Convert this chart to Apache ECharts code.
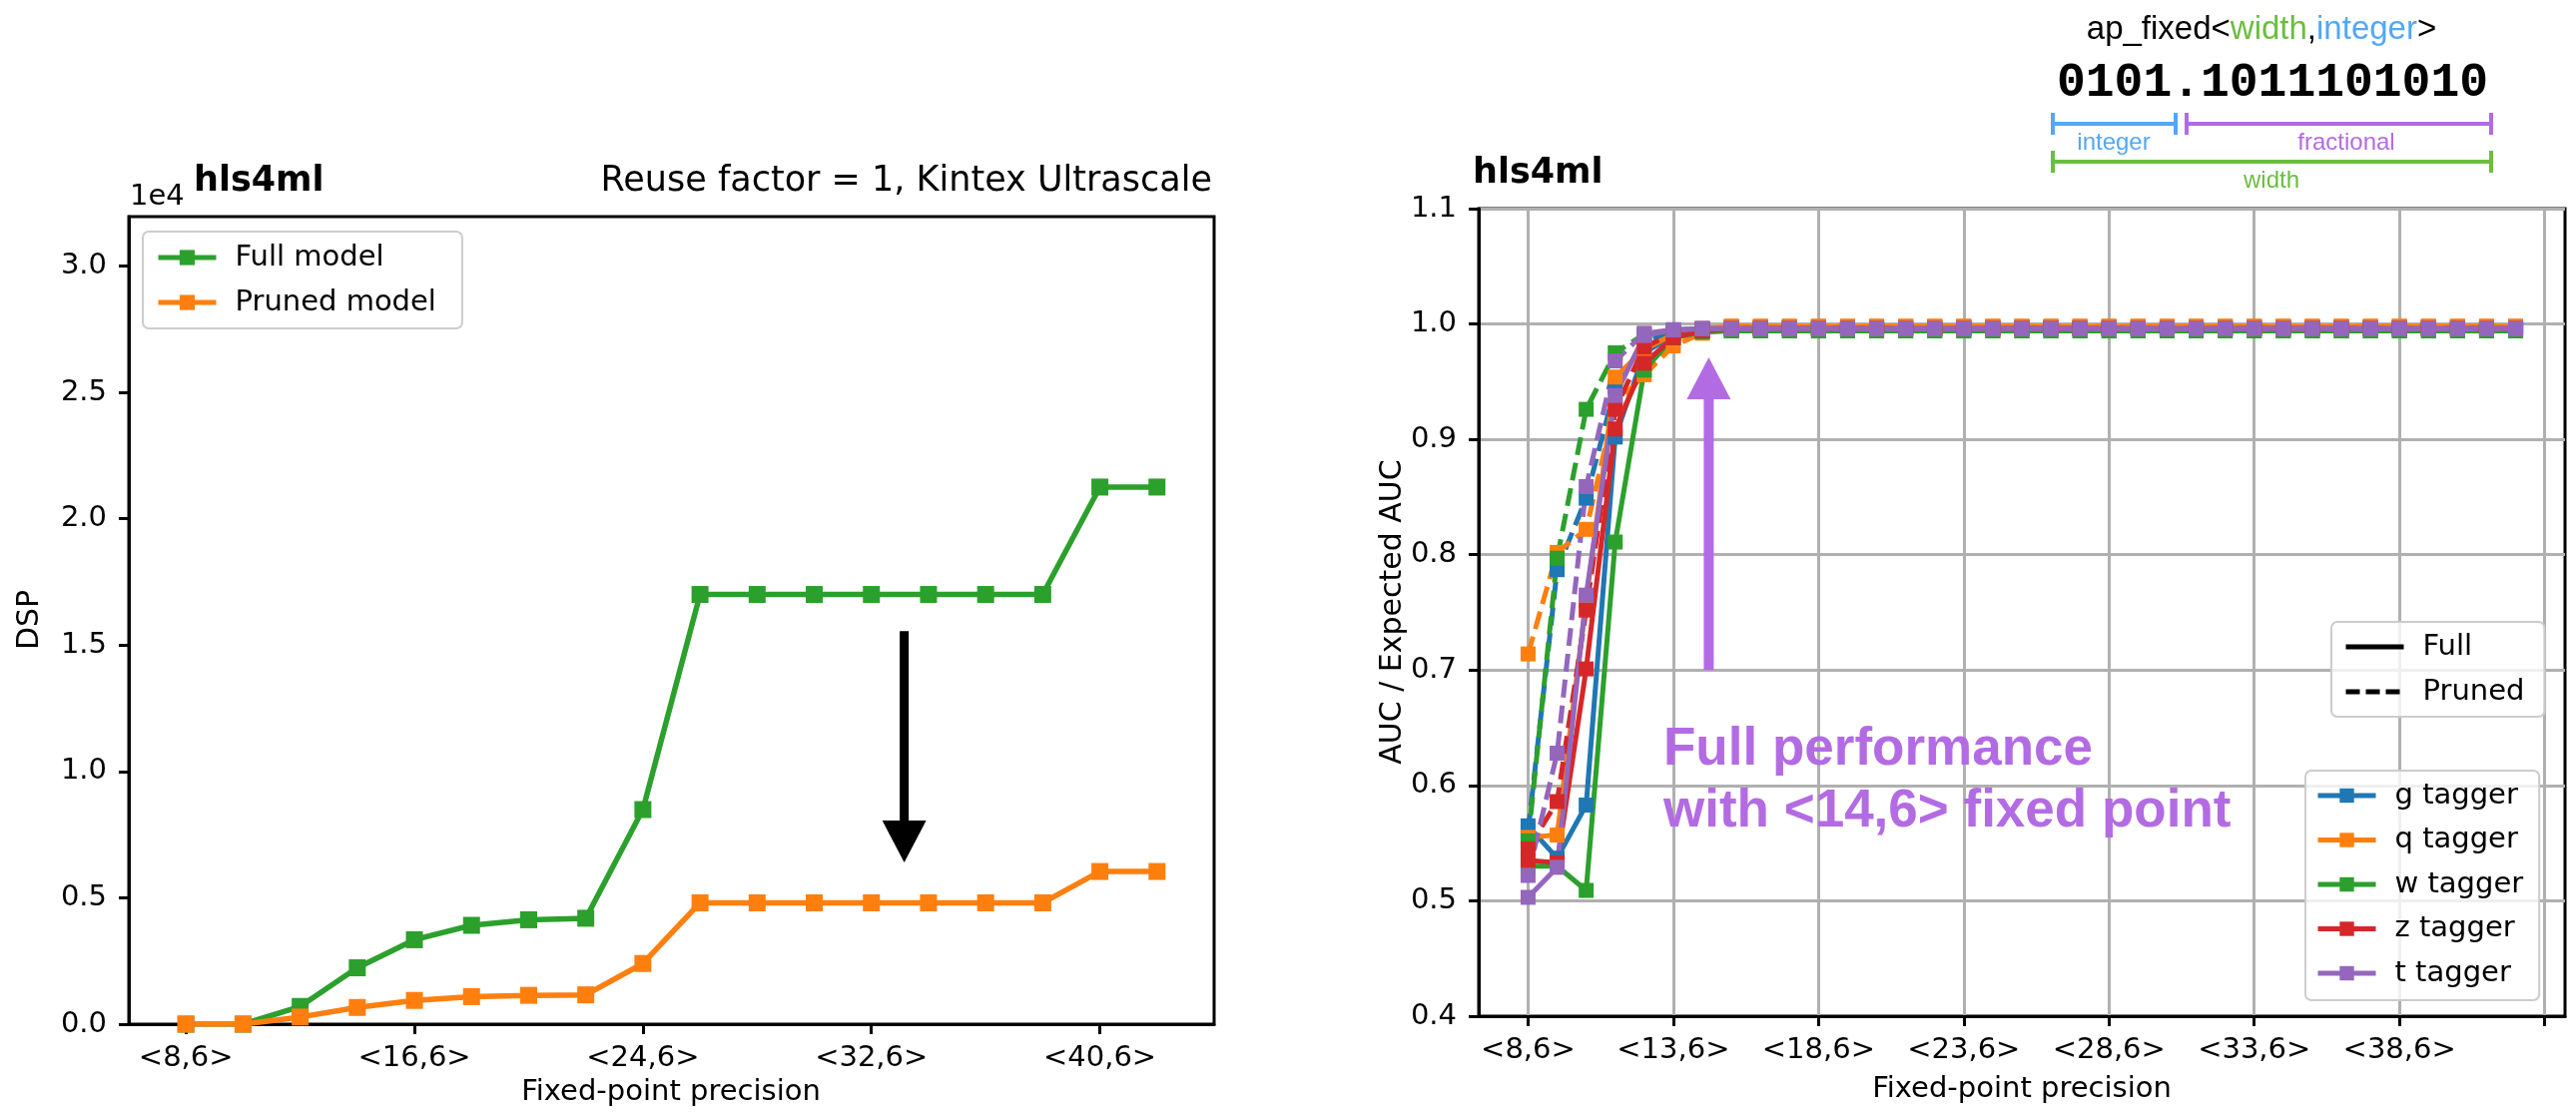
<!DOCTYPE html>
<html><head><meta charset="utf-8">
<script src="https://cdn.jsdelivr.net/npm/echarts@6/dist/echarts.min.js"></script>
<style>html,body{margin:0;padding:0;background:#fff}#c{width:2580px;height:1117px}</style>
</head><body><div id="c"></div>
<script>
// ---------- left panel data (DSP usage) ----------
const dspX = [8,10,12,14,16,18,20,22,24,26,28,30,32,34,36,38,40,42];
const dspFull = [0,0,700,2230,3340,3910,4130,4190,8490,17000,17000,17000,17000,17000,17000,17000,21250,21250];
const dspPruned = [0,0,280,660,940,1090,1140,1160,2400,4800,4800,4800,4800,4800,4800,4800,6040,6040];
const dspTickValues = [8,16,24,32,40];
const dspTickLabels = ['<8,6>','<16,6>','<24,6>','<32,6>','<40,6>'];
const dspYTicks = [0,5000,10000,15000,20000,25000,30000];
const dspYLabels = ['0.0','0.5','1.0','1.5','2.0','2.5','3.0'];

// ---------- right panel data (AUC ratio) ----------
const aucX = [8,9,10,11,12,13,14,15,16,17,18,19,20,21,22,23,24,25,26,27,28,29,30,31,32,33,34,35,36,37,38,39,40,41,42];
const aucTickValues = [8,13,18,23,28,33,38,43];
const aucTickLabels = ['<8,6>','<13,6>','<18,6>','<23,6>','<28,6>','<33,6>','<38,6>',''];
const aucYTicks = [0.4,0.5,0.6,0.7,0.8,0.9,1.0,1.1];
const taggerNames = ['g tagger','q tagger','w tagger','z tagger','t tagger'];
const taggerColors = ['#1f77b4','#ff7f0e','#2ca02c','#d62728','#9467bd'];
const gFull = [0.565,0.537,0.583,0.902,0.975,0.990,0.995,
  0.997,0.997,0.997,0.997,0.997,0.997,0.997,0.997,0.997,0.997,0.997,0.997,0.997,0.997,
  0.997,0.997,0.997,0.997,0.997,0.997,0.997,0.997,0.997,0.997,0.997,0.997,0.997,0.997];
const gPruned = [0.560,0.787,0.849,0.945,0.985,0.993,0.996,
  0.997,0.997,0.997,0.997,0.997,0.997,0.997,0.997,0.997,0.997,0.997,0.997,0.997,0.997,
  0.997,0.997,0.997,0.997,0.997,0.997,0.997,0.997,0.997,0.997,0.997,0.997,0.997,0.997];
const qFull = [0.555,0.557,0.760,0.954,0.978,0.991,0.996,
  0.998,0.998,0.998,0.998,0.998,0.998,0.998,0.998,0.998,0.998,0.998,0.998,0.998,0.998,
  0.998,0.998,0.998,0.998,0.998,0.998,0.998,0.998,0.998,0.998,0.998,0.998,0.998,0.998];
const qPruned = [0.714,0.802,0.822,0.930,0.956,0.981,0.992,
  0.998,0.998,0.998,0.998,0.998,0.998,0.998,0.998,0.998,0.998,0.998,0.998,0.998,0.998,
  0.998,0.998,0.998,0.998,0.998,0.998,0.998,0.998,0.998,0.998,0.998,0.998,0.998,0.998];
const wFull = [0.530,0.530,0.509,0.811,0.960,0.988,0.993,
  0.994,0.994,0.994,0.994,0.994,0.994,0.994,0.994,0.994,0.994,0.994,0.994,0.994,0.994,
  0.994,0.994,0.994,0.994,0.994,0.994,0.994,0.994,0.994,0.994,0.994,0.994,0.994,0.994];
const wPruned = [0.552,0.797,0.926,0.975,0.991,0.994,0.994,
  0.994,0.994,0.994,0.994,0.994,0.994,0.994,0.994,0.994,0.994,0.994,0.994,0.994,0.994,
  0.994,0.994,0.994,0.994,0.994,0.994,0.994,0.994,0.994,0.994,0.994,0.994,0.994,0.994];
const zFull = [0.535,0.533,0.701,0.909,0.966,0.988,0.994,
  0.996,0.996,0.996,0.996,0.996,0.996,0.996,0.996,0.996,0.996,0.996,0.996,0.996,0.996,
  0.996,0.996,0.996,0.996,0.996,0.996,0.996,0.996,0.996,0.996,0.996,0.996,0.996,0.996];
const zPruned = [0.545,0.586,0.752,0.926,0.980,0.992,0.995,
  0.996,0.996,0.996,0.996,0.996,0.996,0.996,0.996,0.996,0.996,0.996,0.996,0.996,0.996,
  0.996,0.996,0.996,0.996,0.996,0.996,0.996,0.996,0.996,0.996,0.996,0.996,0.996,0.996];
const tFull = [0.503,0.529,0.765,0.938,0.990,0.995,0.996,
  0.996,0.996,0.996,0.996,0.996,0.996,0.996,0.996,0.996,0.996,0.996,0.996,0.996,0.996,
  0.996,0.996,0.996,0.996,0.996,0.996,0.996,0.996,0.996,0.996,0.996,0.996,0.996,0.996];
const tPruned = [0.522,0.628,0.859,0.968,0.992,0.995,0.996,
  0.996,0.996,0.996,0.996,0.996,0.996,0.996,0.996,0.996,0.996,0.996,0.996,0.996,0.996,
  0.996,0.996,0.996,0.996,0.996,0.996,0.996,0.996,0.996,0.996,0.996,0.996,0.996,0.996];
const fullSets = [gFull,qFull,wFull,zFull,tFull];
const prunedSets = [gPruned,qPruned,wPruned,zPruned,tPruned];

// annotation anchors (data space)
const dspArrow = {x: 33.15, from: 15550, to: 6400};
const aucArrow = {x: 14.22, from: 0.70, to: 0.971};

const FONT = '"DejaVu Sans", sans-serif';
const chart = echarts.init(document.getElementById('c'), null, {renderer: 'canvas'});

function pairs(xs, ys){ return xs.map((x,i)=>[x, ys[i]]); }

const series = [];
series.push({name:'Full model', type:'line', xAxisIndex:0, yAxisIndex:0, data: pairs(dspX, dspFull),
  symbol:'rect', symbolSize:17, color:'#2ca02c', lineStyle:{width:5.5}, z:3});
series.push({name:'Pruned model', type:'line', xAxisIndex:0, yAxisIndex:0, data: pairs(dspX, dspPruned),
  symbol:'rect', symbolSize:17, color:'#ff7f0e', lineStyle:{width:5.5}, z:3});
for (let k=0;k<5;k++){
  series.push({name: taggerNames[k], type:'line', xAxisIndex:1, yAxisIndex:1, data: pairs(aucX, fullSets[k]),
    symbol:'rect', symbolSize:15, color: taggerColors[k], lineStyle:{width:5}, z:3});
  series.push({name: taggerNames[k]+' pruned', type:'line', xAxisIndex:1, yAxisIndex:1, data: pairs(aucX, prunedSets[k]),
    symbol:'rect', symbolSize:15, color: taggerColors[k], lineStyle:{width:5, type:[18,8]}, z:3});
}
series.push({name:'Full', type:'line', xAxisIndex:1, yAxisIndex:1, data:[], symbol:'none', color:'#000', lineStyle:{width:5}});
series.push({name:'Pruned', type:'line', xAxisIndex:1, yAxisIndex:1, data:[], symbol:'none', color:'#000', lineStyle:{width:5, type:[14,6]}});

const axisCommon = {
  axisLine:{show:true, onZero:false, lineStyle:{color:'#000', width:3}},
  axisTick:{show:true, length:10, lineStyle:{color:'#000', width:3}},
  axisLabel:{color:'#000', fontSize:29, fontFamily:FONT}
};

const legendCommon = {
  orient:'vertical', textStyle:{fontSize:29, fontFamily:FONT, color:'#000', lineHeight:30, padding:[0,0,0,14]},
  backgroundColor:'rgba(255,255,255,0.8)', borderColor:'#cccccc', borderWidth:2, borderRadius:6,
  selectedMode:false, itemWidth:58, lineStyle:{width:5}
};

const option = {
  animation:false,
  backgroundColor:'#ffffff',
  grid:[
    {left:129, top:217, width:1087, height:809, show:true, borderColor:'#000', borderWidth:3, backgroundColor:'transparent'},
    {left:1481, top:209, width:1088, height:809, show:true, borderColor:'#000', borderWidth:3, backgroundColor:'transparent'}
  ],
  xAxis:[
    Object.assign({}, axisCommon, {type:'value', gridIndex:0, min:6, max:44,
      axisTick:{show:true, length:10, lineStyle:{color:'#000', width:3}, customValues: dspTickValues},
      axisLabel:{color:'#000', fontSize:29, fontFamily:FONT, margin:20, customValues: dspTickValues,
        formatter:(v)=>dspTickLabels[dspTickValues.indexOf(v)] ?? ''},
      splitLine:{show:false}}),
    Object.assign({}, axisCommon, {type:'value', gridIndex:1, min:6.3, max:43.7,
      axisTick:{show:true, length:10, lineStyle:{color:'#000', width:3}, customValues: aucTickValues},
      axisLabel:{color:'#000', fontSize:29, fontFamily:FONT, margin:20, customValues: aucTickValues,
        formatter:(v)=>aucTickLabels[aucTickValues.indexOf(v)] ?? ''},
      splitLine:{show:true, lineStyle:{color:'#b0b0b0', width:3}}})
  ],
  yAxis:[
    Object.assign({}, axisCommon, {type:'value', gridIndex:0, min:0, max:31950,
      axisTick:{show:true, length:10, lineStyle:{color:'#000', width:3}, customValues: dspYTicks},
      axisLabel:{color:'#000', fontSize:29, fontFamily:FONT, margin:22, customValues: dspYTicks,
        formatter:(v)=>dspYLabels[dspYTicks.indexOf(v)] ?? ''},
      splitLine:{show:false}}),
    Object.assign({}, axisCommon, {type:'value', gridIndex:1, min:0.4, max:1.1, interval:0.1,
      axisLabel:{color:'#000', fontSize:29, fontFamily:FONT, margin:22, formatter:(v)=>v.toFixed(1)},
      splitLine:{show:true, lineStyle:{color:'#b0b0b0', width:3}}})
  ],
  legend:[
    Object.assign({}, legendCommon, {data:['Full model','Pruned model'], left:143, top:232, itemHeight:19, itemGap:15, padding:[11,26,11,13]}),
    Object.assign({}, legendCommon, {data:[
        {name:'Full', itemStyle:{opacity:0}},
        {name:'Pruned', itemStyle:{opacity:0}}
      ], left:2335, top:623, itemHeight:17, itemGap:15, padding:[10,20,10,12]}),
    Object.assign({}, legendCommon, {data:taggerNames, left:2309, top:772, itemHeight:18, itemGap:14.5, padding:[10,16,12,10]})
  ],
  series: series
};
chart.setOption(option);

function px(grid, x, y){ return chart.convertToPixel({gridIndex:grid}, [x,y]); }
function arrow(grid, a, color, shaftW, headW, headL){
  const top = px(grid, a.x, a.from), tip = px(grid, a.x, a.to);
  const dir = tip[1] > top[1] ? 1 : -1;
  const cx = tip[0];
  const base = tip[1] - dir*headL;
  return [
    {type:'polygon', z:100, shape:{points:[[cx-shaftW/2, top[1]],[cx+shaftW/2, top[1]],[cx+shaftW/2, base],[cx-shaftW/2, base]]}, style:{fill:color}},
    {type:'polygon', z:100, shape:{points:[[cx-headW/2, base],[cx+headW/2, base],[cx, tip[1]]]}, style:{fill:color}}
  ];
}

const PURPLE = '#b36be3', BLUE = '#52a7f6', GREEN = '#6cbd41';
const gfx = [];
gfx.push(...arrow(0, dspArrow, '#000', 9, 44, 42));
gfx.push(...arrow(1, aucArrow, PURPLE, 10, 44, 42));
function txt(x, y, text, opts){
  return {type:'text', x, y, z:110, style:Object.assign({text, fontFamily:FONT, fontSize:29, fill:'#000', align:'left', verticalAlign:'middle'}, opts||{})};
}
// titles
gfx.push(txt(194, 182, 'hls4ml', {fontWeight:'bold', fontSize:35}));
gfx.push(txt(1214, 182, 'Reuse factor = 1, Kintex Ultrascale', {fontSize:35, align:'right'}));
gfx.push(txt(130, 197, '1e4', {fontSize:29}));
gfx.push(txt(1475, 174, 'hls4ml', {fontWeight:'bold', fontSize:35}));
// axis names
gfx.push(txt(672, 1094, 'Fixed-point precision', {align:'center'}));
gfx.push(txt(2025, 1091, 'Fixed-point precision', {align:'center'}));
gfx.push({type:'text', x:30, y:621, rotation:Math.PI/2, z:110, style:{text:'DSP', fontFamily:FONT, fontSize:30, fill:'#000', align:'center', verticalAlign:'middle'}});
gfx.push({type:'text', x:1395, y:613, rotation:Math.PI/2, z:110, style:{text:'AUC / Expected AUC', fontFamily:FONT, fontSize:30, fill:'#000', align:'center', verticalAlign:'middle'}});
// overlay text
const SANS = '"Liberation Sans", Arial, sans-serif';
gfx.push(txt(1666, 751, 'Full performance', {fontFamily:SANS, fontWeight:'bold', fontSize:53, fill:PURPLE}));
gfx.push(txt(1666, 813, 'with <14,6> fixed point', {fontFamily:SANS, fontWeight:'bold', fontSize:53, fill:PURPLE}));
// ap_fixed diagram
gfx.push({type:'text', x:2265, y:30, z:110, style:{
  text:'{k|ap_fixed<}{g|width}{k|,}{b|integer}{k|>}', align:'center', verticalAlign:'middle',
  rich:{k:{fontFamily:SANS, fontSize:33, fill:'#000'}, g:{fontFamily:SANS, fontSize:33, fill:GREEN}, b:{fontFamily:SANS, fontSize:33, fill:BLUE}}}});
gfx.push(txt(2276, 84, '0101.1011101010', {fontFamily:'"Liberation Mono", "DejaVu Sans Mono", monospace', fontWeight:'bold', fontSize:48, align:'center'}));
function bracket(x1, x2, y, h, color){
  return [
    {type:'line', z:110, shape:{x1, y1:y, x2, y2:y}, style:{stroke:color, lineWidth:4}},
    {type:'line', z:110, shape:{x1, y1:y-h, x2:x1, y2:y+h}, style:{stroke:color, lineWidth:4}},
    {type:'line', z:110, shape:{x1:x2, y1:y-h, x2, y2:y+h}, style:{stroke:color, lineWidth:4}}
  ];
}
gfx.push(...bracket(2056, 2179, 124, 11, BLUE));
gfx.push(...bracket(2190, 2495, 124, 11, PURPLE));
gfx.push(...bracket(2056, 2495, 162, 11, GREEN));
gfx.push(txt(2117, 143, 'integer', {fontFamily:SANS, fontSize:24, fill:BLUE, align:'center'}));
gfx.push(txt(2350, 143, 'fractional', {fontFamily:SANS, fontSize:24, fill:PURPLE, align:'center'}));
gfx.push(txt(2275, 181, 'width', {fontFamily:SANS, fontSize:24, fill:GREEN, align:'center'}));

chart.setOption({graphic: gfx});
</script>
</body></html>
